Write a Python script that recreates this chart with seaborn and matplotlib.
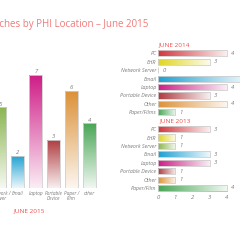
import numpy as np
import pandas as pd
import matplotlib
matplotlib.use('Agg')
import matplotlib.pyplot as plt
import matplotlib.colors as mcolors
import seaborn as sns

sns.set_style('white')
plt.rcParams['font.family'] = ['Open Sans', 'DejaVu Sans']

# data
cats_2015 = ['Network /\nServer', 'Email', 'Laptop', 'Portable\nDevice', 'Paper /\nFilm', 'other']
vals_2015 = [5, 2, 7, 3, 6, 4]
cols_2015 = ['#8dc63f', '#00aeef', '#ec008c', '#c1272d', '#f7941d', '#39b54a']

cats_h = ['PC', 'EHR', 'Network Server', 'Email', 'Laptop', 'Portable Device', 'Other', 'Paper/Film']
vals_2014 = [4, 3, 0, 5, 4, 3, 4, 1]
vals_2013 = [3, 1, 1, 3, 3, 1, 1, 4]
labels_2014 = ['PC', 'EHR', 'Network Server', 'Email', 'Laptop', 'Portable Device', 'Other', 'Paper/Films']
labels_2013 = ['PC', 'EHR', 'Network Server', 'Email', 'Laptop', 'Portable Device', 'Other', 'Paper/Film']
cols_h = ['#ed1c24', '#fff200', '#8dc63f', '#00aeef', '#ec008c', '#c1272d', '#f7941d', '#39b54a']

grey = '#7a7a7a'
red_txt = '#f04e4e'


def gradient(ax, patch, vertical):
    col = np.array(mcolors.to_rgb(patch.get_facecolor()))
    t = np.linspace(0, 1, 128)[:, None]
    arr = col * (1 - t * 0.92) + np.ones(3) * t * 0.92
    x0, y0 = patch.get_x(), patch.get_y()
    w, h = patch.get_width(), patch.get_height()
    if vertical:
        img = arr[::-1][:, None, :]
    else:
        img = arr[None, :, :]
    im = ax.imshow(img, extent=[x0, x0 + w, y0, y0 + h], aspect='auto',
                   origin='lower', zorder=1.5, interpolation='bilinear')
    im.set_clip_path(patch)
    patch.set_facecolor('none')
    patch.set_edgecolor('#cfcfcf')
    patch.set_linewidth(0.6)
    patch.set_zorder(2)


fig = plt.figure(figsize=(2.4, 2.4), dpi=100)

# title is cut by the left edge, as in the source image
fig.text(148 / 240, 1 - 25 / 240, 'Breaches by PHI Location \u2013 June 2015',
         ha='right', va='center', color='#f07a7a', fontsize=7.0)

# left: June 2015 vertical bars
ax1 = fig.add_axes([0, 52 / 240, 100 / 240, 128 / 240])
df1 = pd.DataFrame({'cat': cats_2015, 'val': vals_2015})
sns.barplot(data=df1, x='cat', y='val', hue='cat', palette=cols_2015,
            width=0.72, legend=False, ax=ax1)
for c in ax1.containers:
    ax1.bar_label(c, fmt='%g', padding=0.5, fontsize=4.2, color=grey, style='italic')
for p in list(ax1.patches):
    gradient(ax1, p, True)
ax1.set_xlim(0.028, 5.58)
ax1.set_ylim(0, 7.93)
sns.despine(ax=ax1, left=True, bottom=True)
ax1.set_yticks([])
ax1.set_xlabel('')
ax1.set_ylabel('')
ax1.set_xticks(range(len(cats_2015)))
ax1.set_xticklabels(cats_2015, fontsize=3.4, color=grey, style='italic', linespacing=1.1)
ax1.tick_params(axis='x', length=0, pad=2)
ax1.set_xticks(np.arange(len(cats_2015)) + 0.5, minor=True)
ax1.tick_params(axis='x', which='minor', length=2, width=0.5, color='#aaaaaa', direction='in')
fig.text(13 / 240, 1 - 211 / 240, 'JUNE 2015', ha='left', va='center',
         color=red_txt, fontsize=4.6)

# right: 2014 / 2013 horizontal bars
ax2 = fig.add_axes([158 / 240, 1 - 191.3 / 240, 82 / 240, 151.3 / 240])
slots_2014 = list(range(1, 9))
slots_2013 = list(range(10, 18))
df2 = pd.DataFrame({
    'cat': cats_h + cats_h,
    'val': vals_2014 + vals_2013,
    'slot': slots_2014 + slots_2013,
})
sns.barplot(data=df2, x='val', y='slot', hue='cat', palette=dict(zip(cats_h, cols_h)),
            orient='h', native_scale=True, dodge=False, width=0.72,
            legend=False, ax=ax2)
for c in ax2.containers:
    ax2.bar_label(c, fmt='%g', padding=3, fontsize=4.2, color=grey, style='italic')
for p in list(ax2.patches):
    gradient(ax2, p, False)
ax2.set_xlim(0, 82 / 17.25)
ax2.set_ylim(17.4, -0.6)
ax2.set_yticks(slots_2014 + slots_2013)
ax2.set_yticklabels(labels_2014 + labels_2013, fontsize=3.8, color=grey, style='italic')
ax2.tick_params(axis='y', length=0, pad=1)
ax2.set_xticks([0, 1, 2, 3, 4])
ax2.set_xticklabels(['0', '1', '2', '3', '4'], fontsize=4.2, color=grey, style='italic')
ax2.tick_params(axis='x', length=2, width=0.5, color='#aaaaaa', pad=1)
ax2.set_xlabel('')
ax2.set_ylabel('')
for s in ['top', 'right', 'left']:
    ax2.spines[s].set_visible(False)
ax2.spines['bottom'].set_color('#aaaaaa')
ax2.spines['bottom'].set_linewidth(0.5)
ax2.spines['bottom'].set_bounds(0, 4)
ax2.text(0, 0, 'JUNE 2014', ha='left', va='center', color=red_txt, fontsize=4.6)
ax2.text(0.1, 9, 'JUNE 2013', ha='left', va='center', color=red_txt, fontsize=4.6)

fig.savefig('out.png', dpi=100)
